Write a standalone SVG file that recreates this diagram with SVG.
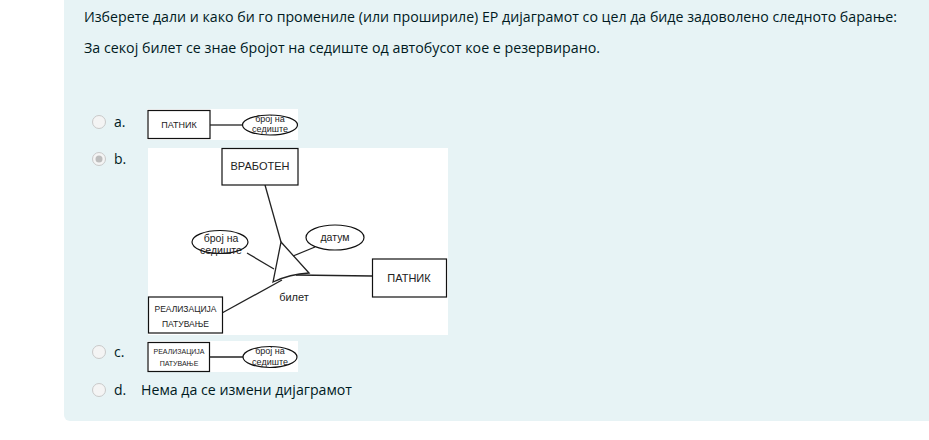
<svg xmlns="http://www.w3.org/2000/svg" width="929" height="440" viewBox="0 0 929 440">
<style>
.q{font-family:"Open Sans","Liberation Sans",sans-serif;font-size:14px;fill:#001a1e}
.opt{font-family:"Open Sans","Liberation Sans",sans-serif;font-size:14px;fill:#001a1e}
.d{font-family:"Liberation Sans",Arial,sans-serif;fill:#222}
.box{fill:#fff;stroke:#111;stroke-width:1.2}
.ell{fill:#fff;stroke:#111;stroke-width:1.2}
.ln{fill:none;stroke:#222;stroke-width:1.3}
.radio{fill:#f4f4f4;stroke:#c9c9c9;stroke-width:1}
</style>
<rect x="0" y="0" width="929" height="440" fill="#fff"/>
<rect x="64" y="-10" width="880" height="431" rx="6" fill="#e7f3f5"/>
<g id="question">
<text class="q" x="84" y="22" textLength="813" lengthAdjust="spacingAndGlyphs">Изберете дали и како би го промениле (или прошириле) ЕР дијаграмот со цел да биде задоволено следното барање:</text>
<text class="q" x="84" y="53" textLength="516" lengthAdjust="spacingAndGlyphs">За секој билет се знае бројот на седиште од автобусот кое е резервирано.</text>
</g>
<g id="radios">
<circle class="radio" cx="99" cy="122" r="6.5"/>
<circle class="radio" cx="99" cy="159" r="6.5"/>
<circle cx="99" cy="159" r="3.5" fill="#bdbdbd"/>
<circle class="radio" cx="99" cy="352" r="6.5"/>
<circle class="radio" cx="99" cy="390" r="6.5"/>
<text class="opt" x="114" y="127">a.</text>
<text class="opt" x="114" y="164">b.</text>
<text class="opt" x="114" y="357">c.</text>
<text class="opt" x="114" y="395">d.</text>
<text class="opt" x="141" y="395" font-size="15" textLength="211" lengthAdjust="spacingAndGlyphs">Нема да се измени дијаграмот</text>
</g>
<g id="option-a">
<rect x="147" y="109" width="151" height="31" fill="#fff"/>
<g id="a-patnik"><rect class="box" x="148" y="110.5" width="62" height="28"/>
<text class="d" x="179" y="128" font-size="9" text-anchor="middle">ПАТНИК</text></g>
<line class="ln" x1="210" y1="125" x2="242" y2="125"/>
<g id="a-broj"><ellipse class="ell" cx="270" cy="125" rx="27.5" ry="10"/>
<text class="d" x="270" y="122" font-size="9" text-anchor="middle">број на</text>
<text class="d" x="270" y="132" font-size="9" text-anchor="middle">седиште</text></g>
</g>
<g id="option-b">
<rect x="148" y="148" width="300" height="187" fill="#fff"/>
<g id="connectors">
<line class="ln" x1="265" y1="185" x2="281" y2="242"/>
<line class="ln" x1="247" y1="253" x2="274" y2="269"/>
<line class="ln" x1="315" y1="247" x2="293" y2="256"/>
<path class="ln" d="M296 275 L372 276"/>
<path class="ln" d="M222 313 L282 280"/>
</g>
<g id="b-triangle">
<path class="ln" d="M281 242 L273 282 Q290 274 309 273 Z" fill="#fff"/>
</g>
<g id="b-vraboten"><rect class="box" x="222" y="148.5" width="76" height="36.5"/>
<text class="d" x="260" y="170" font-size="11" text-anchor="middle">ВРАБОТЕН</text></g>
<g id="b-broj"><ellipse class="ell" cx="220" cy="242" rx="28" ry="11.5"/>
<text class="d" x="221" y="242" font-size="10.5" text-anchor="middle">број на</text>
<text class="d" x="221" y="254" font-size="10.5" text-anchor="middle">седиште</text></g>
<g id="b-datum"><ellipse class="ell" cx="335" cy="237.5" rx="29" ry="12.5"/>
<text class="d" x="335" y="241" font-size="10.5" text-anchor="middle">датум</text></g>
<g id="b-patnik"><rect class="box" x="372.5" y="259" width="74" height="38"/>
<text class="d" x="409" y="282" font-size="11" text-anchor="middle">ПАТНИК</text></g>
<text class="d" x="294" y="301" font-size="11" text-anchor="middle">билет</text>
<g id="b-realizacija"><rect class="box" x="148.5" y="297" width="74" height="36"/>
<text class="d" x="185.5" y="312" font-size="8.5" text-anchor="middle">РЕАЛИЗАЦИЈА</text>
<text class="d" x="185.5" y="327" font-size="8.5" text-anchor="middle">ПАТУВАЊЕ</text></g>
</g>
<g id="option-c">
<rect x="147" y="341" width="151" height="31" fill="#fff"/>
<g id="c-realizacija"><rect class="box" x="148" y="342.5" width="61.5" height="29"/>
<text class="d" x="179" y="354" font-size="7" text-anchor="middle">РЕАЛИЗАЦИЈА</text>
<text class="d" x="179" y="366" font-size="7" text-anchor="middle">ПАТУВАЊЕ</text></g>
<line class="ln" x1="209.5" y1="357" x2="243" y2="357"/>
<g id="c-broj"><ellipse class="ell" cx="270" cy="357" rx="27" ry="10.5"/>
<text class="d" x="270" y="354" font-size="9" text-anchor="middle">број на</text>
<text class="d" x="270" y="365" font-size="9" text-anchor="middle">седиште</text></g>
</g>
</svg>
